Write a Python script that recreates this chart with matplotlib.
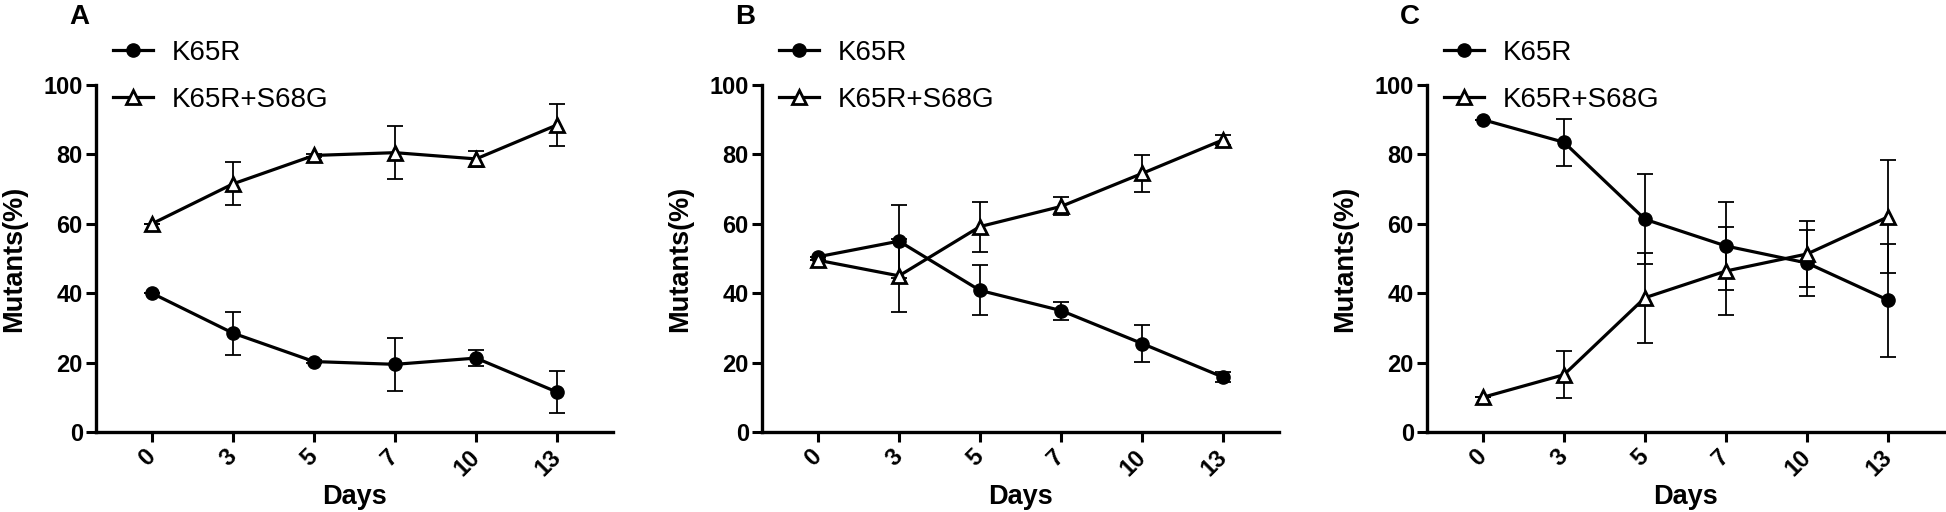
import numpy as np
import matplotlib.pyplot as plt

plt.rcParams['font.family'] = ['Liberation Sans', 'DejaVu Sans']

days = ['0', '3', '5', '7', '10', '13']

# panel A
a_k65r = [40, 28.5, 20.3, 19.5, 21.3, 11.5]
a_k65r_err = [0, 6.2, 0.5, 7.6, 2.4, 6.0]
a_double = [60, 71.5, 79.7, 80.5, 78.7, 88.5]
a_double_err = [0, 6.2, 0.5, 7.6, 2.4, 6.0]

# panel B
b_k65r = [50.5, 55, 40.8, 35, 25.5, 15.8]
b_k65r_err = [0, 10.5, 7.2, 2.6, 5.4, 1.5]
b_double = [49.5, 45, 59.2, 65, 74.5, 84.2]
b_double_err = [0, 10.5, 7.2, 2.6, 5.4, 1.5]

# panel C
c_k65r = [90, 83.5, 61.3, 53.6, 48.7, 38]
c_k65r_err = [0, 6.8, 13, 12.7, 9.6, 16.3]
c_double = [10, 16.5, 38.7, 46.4, 51.3, 62]
c_double_err = [0, 6.8, 13, 12.7, 9.6, 16.3]

panels = [('A', a_k65r, a_k65r_err, a_double, a_double_err),
          ('B', b_k65r, b_k65r_err, b_double, b_double_err),
          ('C', c_k65r, c_k65r_err, c_double, c_double_err)]

W, H = 1946, 512
fig = plt.figure(figsize=(W / 100, H / 100), dpi=100)
lefts = [96, 762, 1427]
ax_w, ax_h = 517, 347

for left, (letter, k, ke, d, de) in zip(lefts, panels):
    ax = fig.add_axes([left / W, 1 - 432 / H, ax_w / W, ax_h / H])
    x = np.arange(len(days))

    # error bars first, then lines with markers on top
    ax.errorbar(x, k, yerr=ke, fmt='none', ecolor='black', elinewidth=1.3,
                capsize=5.5, capthick=1.3, zorder=2)
    ax.errorbar(x, d, yerr=de, fmt='none', ecolor='black', elinewidth=1.3,
                capsize=5.5, capthick=1.3, zorder=2)
    ax.plot(x, k, color='black', lw=2.3, marker='o', ms=9.5, mfc='black',
            mec='black', label='K65R', zorder=3)
    ax.plot(x, d, color='black', lw=2.3, marker='^', ms=10, mfc='white',
            mec='black', mew=2, label='K65R+S68G', zorder=3)

    ax.set_xlim(-0.69, 5.69)
    ax.set_ylim(0, 100)
    ax.set_xticks(x)
    ax.set_xticklabels(days, rotation=45, ha='right', va='center',
                       rotation_mode='anchor', fontsize=17, fontweight='bold')
    ax.set_yticks([0, 20, 40, 60, 80, 100])
    ax.set_yticklabels(['0', '20', '40', '60', '80', '100'], fontsize=17,
                       fontweight='bold')
    ax.tick_params(axis='both', width=2.2, length=7.5, direction='out')
    ax.tick_params(axis='y', pad=2)
    ax.tick_params(axis='x', pad=8)
    for s in ['top', 'right']:
        ax.spines[s].set_visible(False)
    for s in ['left', 'bottom']:
        ax.spines[s].set_linewidth(2.4)

    ax.set_ylabel('Mutants(%)', fontsize=19.5, fontweight='bold')
    ax.yaxis.set_label_coords(-69 / ax_w, 0.5)
    ax.set_xlabel('Days', fontsize=19.5, fontweight='bold')
    ax.xaxis.set_label_coords(0.5, -52 / ax_h)

    ax.legend(loc='upper left', bbox_to_anchor=(17 / ax_w, 1.131), frameon=False,
              fontsize=20, handlelength=1.45, handletextpad=0.65,
              labelspacing=0.78, borderpad=0, borderaxespad=0, numpoints=1)

    fig.text((left - 17) / W, 1 - 17 / H, letter, fontsize=20, fontweight='bold',
             ha='center', va='center')

fig.savefig('out.png', dpi=100)
